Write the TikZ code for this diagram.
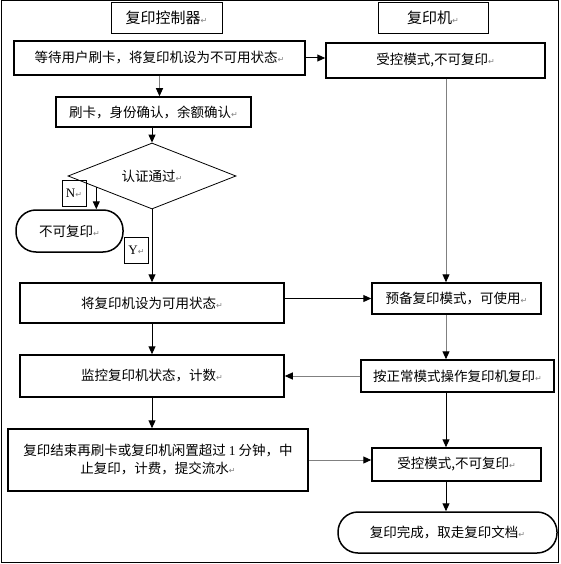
\documentclass[tikz,border=0pt]{standalone}
\usepackage{fontspec}
\setmainfont{Liberation Serif}
\newfontfamily\cjk{Noto Sans CJK SC}
\newfontfamily\dejavu{DejaVu Sans}
\usepackage{tikz}
\usetikzlibrary{positioning,shapes.geometric,arrows.meta,calc}
\newcommand{\retmark}{{\color{gray}\dejavu\fontsize{8}{8}\selectfont ↵}}

\begin{document}
\begin{tikzpicture}[x=1pt,y=-1pt,
    box/.style={draw,line width=1.5pt,inner sep=1pt,font={\cjk\fontsize{13.5}{18}\selectfont}},
    title/.style={draw,line width=0.8pt,inner sep=1pt,font={\cjk\fontsize{15}{18}\selectfont}},
    term/.style={box,rounded corners=20pt},
    tag/.style={draw,line width=0.6pt,inner sep=0pt,minimum width=24pt,minimum height=26pt,font=\fontsize{13}{14}\selectfont},
    arr/.style={line width=1pt,-{Triangle[length=8pt,width=7pt,color=black,fill=black]}},
    garr/.style={arr,draw=gray}]
    \useasboundingbox (0,0) rectangle (561,564);
    \draw[line width=1pt] (1,1) rectangle (558,562);

    \node[title,minimum width=111pt,minimum height=31pt] (ctl) at (166.5,17.5) {复印控制器\retmark};
    \node[title,minimum width=110pt,minimum height=31pt] (cop) at (433,17.5) {复印机\retmark};

    \node[box,minimum width=291pt,minimum height=34pt] (wait) at (159.5,58) {等待用户刷卡，将复印机设为不可用状态\retmark};
    \node[box,minimum width=219pt,minimum height=35pt] (lock) at (435.5,60.5) {受控模式,不可复印\retmark};
    \node[box,minimum width=195pt,minimum height=30pt] (card) at (153.5,112) {刷卡，身份确认，余额确认\retmark};
    \node[diamond,draw,aspect=2.5,line width=0.8pt,minimum width=168pt,minimum height=66pt,inner sep=1pt,
        font={\cjk\fontsize{13.5}{18}\selectfont}] (auth) at (152,176) {认证通过\retmark};
    \node[tag] (no) at (74,193) {N\retmark};
    \node[term,minimum width=107pt,minimum height=42pt] (deny) at (69.5,231) {不可复印\retmark};
    \node[tag] (yes) at (136.5,250) {Y\retmark};

    \node[box,minimum width=264pt,minimum height=40pt] (free) at (152,303) {将复印机设为可用状态\retmark};
    \node[box,minimum width=169pt,minimum height=31pt] (ready) at (456.5,298.5) {预备复印模式，可使用\retmark};
    \node[box,minimum width=264pt,minimum height=42pt] (watch) at (152,376) {监控复印机状态，计数\retmark};
    \node[box,minimum width=193pt,minimum height=32pt] (use) at (457.5,376) {按正常模式操作复印机复印\retmark};
    \node[box,minimum width=300pt,minimum height=62pt,align=center] (stop) at (158,460)
        {复印结束再刷卡或复印机闲置超过 {\rmfamily 1} 分钟，中\\止复印，计费，提交流水\retmark};
    \node[box,minimum width=169pt,minimum height=33pt] (relock) at (456.5,464.5) {受控模式,不可复印\retmark};
    \node[term,minimum width=219pt,minimum height=41pt] (done) at (447.5,532.5) {复印完成，取走复印文档\retmark};

    \coordinate (rc) at (446,0);
    \coordinate (nfrom) at ($(auth.west)!0.34!(auth.south)$);

    \draw[arr] (wait.east) -- (wait.east -| lock.west);
    \draw[garr] (wait.south) -- (wait.south |- card.north);
    \draw[arr] (card.south -| auth.north) -- (auth.north);
    \draw[arr] (nfrom) -- (nfrom |- deny.north);
    \draw[arr] (auth.south) -- (auth.south |- free.north);
    \draw[arr] (free.east |- ready.west) -- (ready.west);
    \draw[garr] (lock.south -| rc) -- (ready.north -| rc);
    \draw[arr] (free.south) -- (watch.north);
    \draw[garr] (ready.south -| rc) -- (use.north -| rc);
    \draw[garr] (use.west) -- (use.west -| watch.east);
    \draw[arr] (watch.south) -- (watch.south |- stop.north);
    \draw[arr] (use.south -| rc) -- (relock.north -| rc);
    \draw[garr] (stop.east) -- (stop.east -| relock.west);
    \draw[arr] (relock.south -| rc) -- (done.north -| rc);
\end{tikzpicture}
\end{document}
